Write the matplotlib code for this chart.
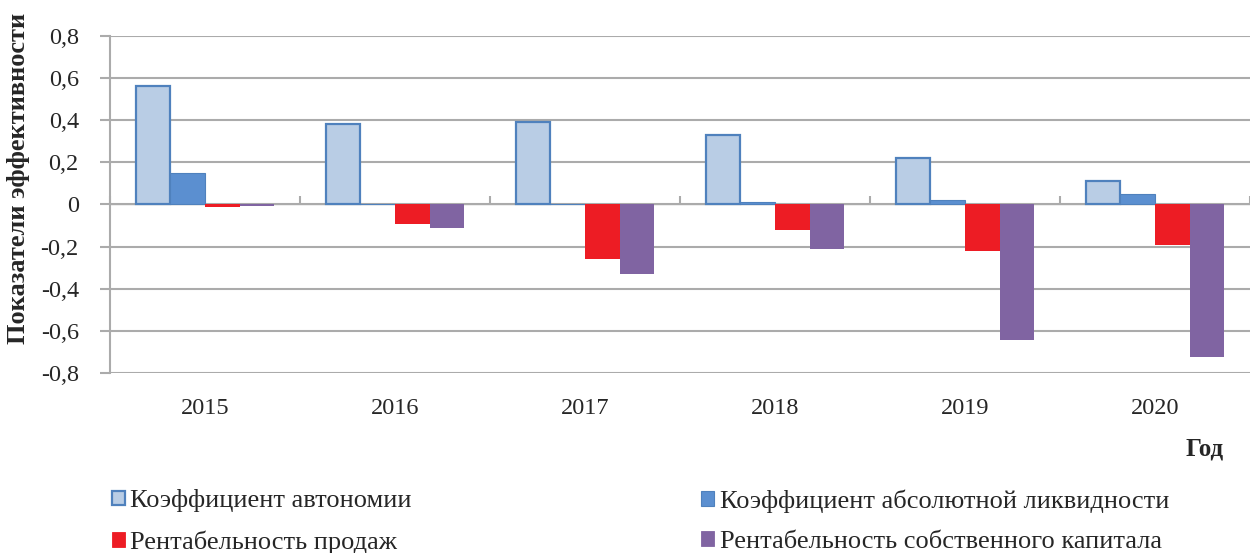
import matplotlib
matplotlib.use("Agg")
import matplotlib.pyplot as plt
from matplotlib.patches import Patch
import numpy as np

years = ["2015", "2016", "2017", "2018", "2019", "2020"]
autonomy = [0.56, 0.38, 0.39, 0.33, 0.22, 0.11]
abs_liquidity = [0.15, 0.0, 0.0, 0.01, 0.02, 0.05]
sales_margin = [-0.01, -0.09, -0.26, -0.12, -0.22, -0.19]
equity_return = [-0.007, -0.11, -0.33, -0.21, -0.64, -0.72]

series_labels = [
    "Коэффициент автономии",
    "Коэффициент абсолютной ликвидности",
    "Рентабельность продаж",
    "Рентабельность собственного капитала",
]
y_ticks = [0.8, 0.6, 0.4, 0.2, 0.0, -0.2, -0.4, -0.6, -0.8]

plt.rcParams["font.family"] = ["Liberation Serif", "DejaVu Serif"]
TEXT = "#262626"
GRID = "#ababab"

fills = ["#b9cde5", "#5b8fd0", "#ed1c24", "#8064a2"]
edges = ["#4f81bd", "#4f81bd", "#ed1c24", "#8064a2"]
lws = [1.6, 0.8, 0.0, 0.0]

fig = plt.figure(figsize=(12.5, 5.53), dpi=100)
ax = fig.add_axes([0.088, 0.3246, 0.912, 0.6112])

x = np.arange(len(years))
width = 0.182
offsets = [-1.5 * width, -0.5 * width, 0.5 * width, 1.5 * width]
data = [autonomy, abs_liquidity, sales_margin, equity_return]
for vals, off, fc, ec, lw in zip(data, offsets, fills, edges, lws):
    ax.bar(x + off, vals, width=width, color=fc, edgecolor=ec, linewidth=lw, zorder=3)

ax.set_xlim(-0.5, len(years) - 0.5)
ax.set_ylim(-0.8, 0.8)
ax.set_yticks(y_ticks)
ax.set_yticklabels([("0" if v == 0 else f"{v:.1f}".replace(".", ",")) for v in y_ticks])
ax.yaxis.grid(True, color=GRID, linewidth=1.5, zorder=0)
ax.set_axisbelow(True)

for s in ["top", "right", "bottom"]:
    ax.spines[s].set_visible(False)
ax.spines["left"].set_color(GRID)
ax.spines["left"].set_linewidth(1.5)
ax.tick_params(axis="y", direction="out", length=7.5, width=1.5, color=GRID,
               labelsize=17.5, labelcolor=TEXT, pad=15)

ax.set_xticks(x)
ax.set_xticklabels(years)
ax.tick_params(axis="x", length=0, labelsize=17.5, labelcolor=TEXT, pad=18)

# category boundary ticks on the zero line
sec = ax.secondary_xaxis(0.5)
sec.set_xticks(np.arange(-0.5, len(years), 1.0))
sec.set_xticklabels([])
sec.spines["bottom"].set_visible(False)
sec.tick_params(axis="x", direction="out", length=5.5, width=1.5, color=GRID)

fig.text(0.0145, 0.678, "Показатели эффективности", rotation=90, ha="center",
         va="center", fontsize=19, fontweight="bold", color=TEXT)
fig.text(0.964, 0.188, "Год", ha="center", va="center", fontsize=18,
         fontweight="bold", color=TEXT)

handles = [Patch(facecolor=fc, edgecolor=ec, linewidth=max(lw, 0.6))
           for fc, ec, lw in zip(fills, edges, lws)]
common = dict(frameon=False, fontsize=19, handlelength=0.48, handleheight=0.48,
              handletextpad=0.22, labelspacing=0.69, borderaxespad=0, borderpad=0,
              labelcolor=TEXT, loc="upper left")
leg1 = fig.legend([handles[0], handles[2]], [series_labels[0], series_labels[2]],
                  bbox_to_anchor=(0.0896, 0.115), **common)
leg2 = fig.legend([handles[1], handles[3]], [series_labels[1], series_labels[3]],
                  bbox_to_anchor=(0.561, 0.115), **common)

fig.savefig("out.png", dpi=100, facecolor="white")
